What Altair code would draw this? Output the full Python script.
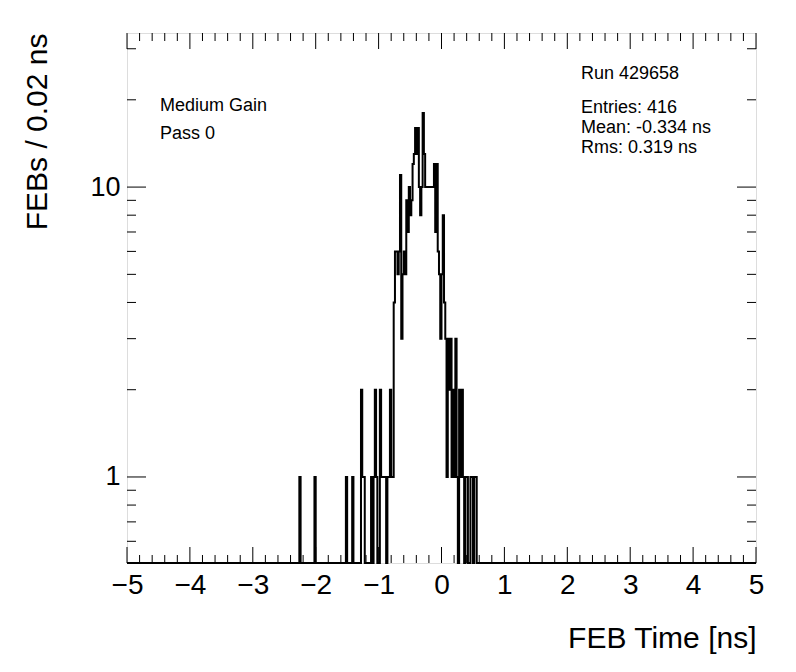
import altair as alt
import numpy as np
import pandas as pd

# Histogram bins (left edge in ns, 0.02 ns wide) with non-zero content
bin_left = [-2.26, -2.02, -1.52, -1.42, -1.28, -1.26, -1.24, -1.12, -1.08, -1.06,
            -1.04, -0.98, -0.96, -0.94, -0.92, -0.90, -0.86, -0.84, -0.82, -0.80,
            -0.78, -0.76, -0.74, -0.72, -0.70, -0.68, -0.66, -0.64, -0.62, -0.60,
            -0.58, -0.56, -0.54, -0.52, -0.50, -0.48, -0.46, -0.44, -0.42, -0.40,
            -0.38, -0.36, -0.34, -0.32, -0.30, -0.28, -0.26, -0.24, -0.22, -0.20,
            -0.18, -0.16, -0.14, -0.12, -0.10, -0.08, -0.06, -0.04, -0.02, 0.00,
            0.02, 0.04, 0.06, 0.08, 0.10, 0.12, 0.14, 0.16, 0.18, 0.20,
            0.22, 0.24, 0.28, 0.30, 0.32, 0.34, 0.38, 0.40, 0.46, 0.48,
            0.52, 0.54]
bin_count = [1, 1, 1, 1, 2, 1, 1, 1, 1, 2,
             1, 2, 1, 1, 1, 1, 1, 1, 2, 1,
             1, 4, 6, 6, 5, 6, 11, 3, 5, 6,
             5, 9, 7, 10, 8, 9, 12, 13, 16, 13,
             16, 10, 8, 10, 18, 13, 10, 10, 10, 10,
             10, 10, 10, 12, 7, 12, 6, 5, 3, 5,
             8, 4, 3, 1, 3, 2, 3, 1, 2, 1,
             3, 1, 2, 1, 2, 1, 1, 1, 1, 1,
             1, 1]

x_major = [-5, -4, -3, -2, -1, 0, 1, 2, 3, 4, 5]
x_minor = [round(-5 + 0.2 * i, 1) for i in range(51) if i % 5 != 0]
y_major = [1, 10]
y_minor = [0.6, 0.7, 0.8, 0.9, 2, 3, 4, 5, 6, 7, 8, 9, 20, 30]

N_BINS = 500
counts = np.zeros(N_BINS + 1)
for l, c in zip(bin_left, bin_count):
    counts[int(round((l + 5) / 0.02))] = c
edges = np.round(np.linspace(-5, 5, N_BINS + 1), 4)
counts[-1] = counts[-2]
hist = pd.DataFrame({"x": edges, "n": counts})

W, H = 629, 530
FONT = "Liberation Sans"

xs = alt.Scale(domain=[-5, 5], nice=False, zero=False)
ys = alt.Scale(type="log", domain=[0.505, 34], nice=False, clamp=True)

xaxis = alt.Axis(
    values=x_major, format="d", domain=False, ticks=False, grid=False,
    labelFont=FONT, labelFontSize=28, labelColor="black", labelPadding=8,
    labelFlush=False, labelOverlap=False, labelBound=False,
    title="FEB Time [ns]", titleFont=FONT, titleFontSize=30,
    titleFontWeight="normal", titleColor="black", titleAnchor="end",
    titleAlign="right", titlePadding=24)
yaxis = alt.Axis(
    values=y_major, format="d", domain=False, ticks=False, grid=False,
    labelFont=FONT, labelFontSize=27, labelColor="black", labelPadding=7,
    labelFlush=False, labelOverlap=False,
    title="FEBs / 0.02 ns", titleFont=FONT, titleFontSize=30,
    titleFontWeight="normal", titleColor="black", titleAnchor="end",
    titlePadding=37)

line = alt.Chart(hist).transform_calculate(
    yv="max(datum.n, 0.1)"
).mark_line(interpolate="step-after", color="black", strokeWidth=2).encode(
    x=alt.X("x:Q", scale=xs, axis=xaxis, title="FEB Time [ns]"),
    y=alt.Y("yv:Q", scale=ys, axis=yaxis, title="FEBs / 0.02 ns"),
)

dfxM = pd.DataFrame({"x": x_major})
dfxm = pd.DataFrame({"x": x_minor})
dfyM = pd.DataFrame({"yv": y_major})
dfym = pd.DataFrame({"yv": y_minor})

def xticks(df, L):
    b = alt.Chart(df).mark_rule(color="black", strokeWidth=1).encode(
        x=alt.X("x:Q", scale=xs, axis=xaxis, title="FEB Time [ns]"),
        y=alt.value(H), y2=alt.value(H - L))
    t = alt.Chart(df).mark_rule(color="black", strokeWidth=1).encode(
        x=alt.X("x:Q", scale=xs, axis=xaxis, title="FEB Time [ns]"),
        y=alt.value(0), y2=alt.value(L))
    return [b, t]

def yticks(df, L):
    l = alt.Chart(df).mark_rule(color="black", strokeWidth=1).encode(
        y=alt.Y("yv:Q", scale=ys, axis=yaxis, title="FEBs / 0.02 ns"),
        x=alt.value(0), x2=alt.value(L))
    r = alt.Chart(df).mark_rule(color="black", strokeWidth=1).encode(
        y=alt.Y("yv:Q", scale=ys, axis=yaxis, title="FEBs / 0.02 ns"),
        x=alt.value(W), x2=alt.value(W - L))
    return [l, r]

one = pd.DataFrame({"a": [0]})

def label(txt, x, y):
    return alt.Chart(one).mark_text(
        font=FONT, fontSize=18, align="left", baseline="middle", color="black"
    ).encode(text=alt.value(txt), x=alt.value(x), y=alt.value(y))

texts = [
    label("Run 429658", 454, 41),
    label("Entries: 416", 454, 75),
    label("Mean: -0.334 ns", 454, 95),
    label("Rms: 0.319 ns", 454, 115),
    label("Medium Gain", 33, 73),
    label("Pass 0", 33, 101),
]

layers = [line] + xticks(dfxM, 16) + xticks(dfxm, 8) + yticks(dfyM, 19) + yticks(dfym, 9) + texts

chart = alt.layer(*layers).properties(
    width=W, height=H,
    autosize=alt.AutoSizeParams(type="none"),
    padding={"left": 119, "top": 25, "right": 25, "bottom": 100},
).configure_view(stroke="black", strokeWidth=1.5).configure(background="white")

chart.save("out.html", embed_options={"renderer": "svg", "actions": False})
